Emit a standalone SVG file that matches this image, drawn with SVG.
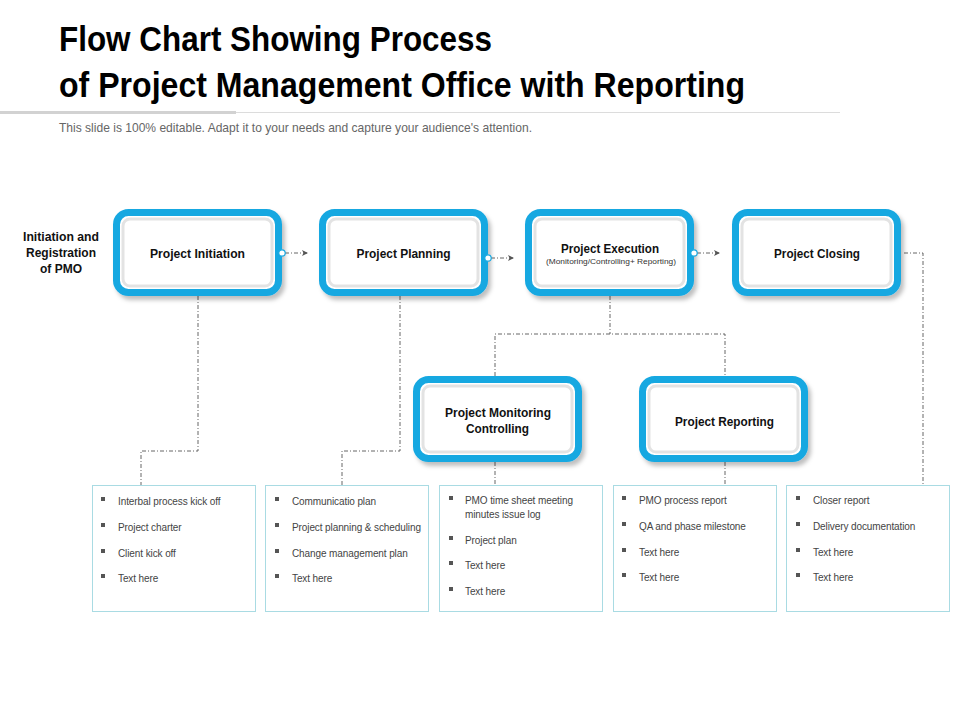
<svg xmlns="http://www.w3.org/2000/svg" width="960" height="720" viewBox="0 0 960 720">
<defs>
<filter id="sh" x="-10%" y="-10%" width="130%" height="140%">
<feDropShadow dx="3" dy="4" stdDeviation="2" flood-color="#000" flood-opacity="0.25"/>
</filter>
<marker id="arr" viewBox="0 0 8 8" refX="7" refY="4" markerWidth="8" markerHeight="8" markerUnits="userSpaceOnUse" orient="auto">
<path d="M1,1 L7,4 L1,7 L2.5,4 Z" fill="#555"/>
</marker>
<symbol id="bullet" viewBox="0 0 4 4"><rect width="4" height="4" fill="#555"/></symbol>
</defs>
<style>
.outer{fill:#fff;stroke:#17a8e1;stroke-width:7}
.inner{fill:#fff;stroke:#e3e3e3;stroke-width:3}
.lbl{font-family:"Liberation Sans",Arial,sans-serif;font-weight:bold;font-size:13.5px;fill:#111;text-anchor:middle}
.sub{font-family:"Liberation Sans",Arial,sans-serif;font-size:8px;fill:#333;text-anchor:middle}
.conn{fill:none;stroke:#555;stroke-width:0.9;stroke-dasharray:4 2 1 2}
.box{fill:#fff;stroke:#a9dbe3;stroke-width:1}
.item{font-family:"Liberation Sans",Arial,sans-serif;font-size:10px;fill:#444;letter-spacing:-0.1px}
.dot{fill:#fff;stroke:#17a8e1;stroke-width:1.2}
</style>
<rect width="960" height="720" fill="#fff"/>

<g id="header">
<text x="59" y="51" font-family="Liberation Sans,Arial,sans-serif" font-weight="bold" font-size="35" fill="#000" textLength="433" lengthAdjust="spacingAndGlyphs">Flow Chart Showing Process</text>
<text x="59" y="97" font-family="Liberation Sans,Arial,sans-serif" font-weight="bold" font-size="35" fill="#000" textLength="686" lengthAdjust="spacingAndGlyphs">of Project Management Office with Reporting</text>
<line x1="236" y1="112.5" x2="840" y2="112.5" stroke="#dcdcdc" stroke-width="1"/>
<line x1="0" y1="112.5" x2="236" y2="112.5" stroke="#d2d2d2" stroke-width="3"/>
<text x="59" y="132" font-family="Liberation Sans,Arial,sans-serif" font-size="13" fill="#666" textLength="473" lengthAdjust="spacingAndGlyphs">This slide is 100% editable. Adapt it to your needs and capture your audience's attention.</text>
</g>

<g id="label-pmo">
<text class="lbl" x="61" y="241" textLength="76" lengthAdjust="spacingAndGlyphs">Initiation and</text>
<text class="lbl" x="61" y="257" textLength="70" lengthAdjust="spacingAndGlyphs">Registration</text>
<text class="lbl" x="61" y="273" textLength="42" lengthAdjust="spacingAndGlyphs">of PMO</text>
</g>

<g id="connectors">
<path class="conn" d="M198,296 V451 H141 V485"/>
<path class="conn" d="M400,296 V451 H342 V485"/>
<path class="conn" d="M610,296 V334"/>
<path class="conn" d="M495,376 V334 H725 V376"/>
<path class="conn" d="M495,462 V485"/>
<path class="conn" d="M725,462 V485"/>
<path class="conn" d="M904,253 H923 V485"/>
<path class="conn" d="M285,253 H308" marker-end="url(#arr)"/>
<path class="conn" d="M491,258 H514" marker-end="url(#arr)"/>
<path class="conn" d="M697,253 H720" marker-end="url(#arr)"/>
</g>

<g id="node-initiation">
<rect class="outer" x="116.5" y="212.5" width="162" height="80" rx="12" filter="url(#sh)"/>
<rect class="inner" x="123" y="219" width="149" height="67" rx="7"/>
<text class="lbl" x="197.5" y="258" textLength="95" lengthAdjust="spacingAndGlyphs">Project Initiation</text>
<circle class="dot" cx="282" cy="253" r="3.2"/>
</g>

<g id="node-planning">
<rect class="outer" x="322.5" y="212.5" width="162" height="80" rx="12" filter="url(#sh)"/>
<rect class="inner" x="329" y="219" width="149" height="67" rx="7"/>
<text class="lbl" x="403.5" y="258" textLength="94" lengthAdjust="spacingAndGlyphs">Project Planning</text>
<circle class="dot" cx="488" cy="258" r="3.2"/>
</g>

<g id="node-execution">
<rect class="outer" x="528.5" y="212.5" width="162" height="80" rx="12" filter="url(#sh)"/>
<rect class="inner" x="535" y="219" width="149" height="67" rx="7"/>
<text class="lbl" x="610" y="253" textLength="98" lengthAdjust="spacingAndGlyphs">Project Execution</text>
<text class="sub" x="611" y="264" textLength="130" lengthAdjust="spacingAndGlyphs">(Monitoring/Controlling+  Reporting)</text>
<circle class="dot" cx="694" cy="253" r="3.2"/>
</g>

<g id="node-closing">
<rect class="outer" x="735.5" y="212.5" width="162" height="80" rx="12" filter="url(#sh)"/>
<rect class="inner" x="742" y="219" width="149" height="67" rx="7"/>
<text class="lbl" x="817" y="258" textLength="86" lengthAdjust="spacingAndGlyphs">Project Closing</text>
</g>

<g id="node-monitoring">
<rect class="outer" x="416.5" y="379.5" width="162" height="79" rx="12" filter="url(#sh)"/>
<rect class="inner" x="423" y="386" width="149" height="66" rx="7"/>
<text class="lbl" x="498" y="417" textLength="106" lengthAdjust="spacingAndGlyphs">Project Monitoring</text>
<text class="lbl" x="497.5" y="433" textLength="63" lengthAdjust="spacingAndGlyphs">Controlling</text>
</g>

<g id="node-reporting">
<rect class="outer" x="642.5" y="379.5" width="162" height="79" rx="12" filter="url(#sh)"/>
<rect class="inner" x="649" y="386" width="149" height="66" rx="7"/>
<text class="lbl" x="724.5" y="426" textLength="99" lengthAdjust="spacingAndGlyphs">Project Reporting</text>
</g>

<g id="list-initiation">
<rect class="box" x="92.5" y="485.5" width="163" height="126"/>
<use href="#bullet" x="101" y="497" width="4" height="4"/>
<use href="#bullet" x="101" y="523" width="4" height="4"/>
<use href="#bullet" x="101" y="549" width="4" height="4"/>
<use href="#bullet" x="101" y="574" width="4" height="4"/>
<text class="item" x="118" y="505">Interbal process kick off</text>
<text class="item" x="118" y="531">Project charter</text>
<text class="item" x="118" y="557">Client kick off</text>
<text class="item" x="118" y="582">Text here</text>
</g>

<g id="list-planning">
<rect class="box" x="265.5" y="485.5" width="163" height="126"/>
<use href="#bullet" x="275" y="497" width="4" height="4"/>
<use href="#bullet" x="275" y="523" width="4" height="4"/>
<use href="#bullet" x="275" y="549" width="4" height="4"/>
<use href="#bullet" x="275" y="574" width="4" height="4"/>
<text class="item" x="292" y="505">Communicatio plan</text>
<text class="item" x="292" y="531">Project planning &amp; scheduling</text>
<text class="item" x="292" y="557">Change management plan</text>
<text class="item" x="292" y="582">Text here</text>
</g>

<g id="list-monitoring">
<rect class="box" x="439.5" y="485.5" width="163" height="126"/>
<use href="#bullet" x="449" y="496" width="4" height="4"/>
<use href="#bullet" x="449" y="536" width="4" height="4"/>
<use href="#bullet" x="449" y="561" width="4" height="4"/>
<use href="#bullet" x="449" y="587" width="4" height="4"/>
<text class="item" x="465" y="504">PMO time sheet meeting</text>
<text class="item" x="465" y="518">minutes issue log</text>
<text class="item" x="465" y="544">Project plan</text>
<text class="item" x="465" y="569">Text here</text>
<text class="item" x="465" y="595">Text here</text>
</g>

<g id="list-reporting">
<rect class="box" x="613.5" y="485.5" width="163" height="126"/>
<use href="#bullet" x="622" y="496" width="4" height="4"/>
<use href="#bullet" x="622" y="522" width="4" height="4"/>
<use href="#bullet" x="622" y="548" width="4" height="4"/>
<use href="#bullet" x="622" y="573" width="4" height="4"/>
<text class="item" x="639" y="504">PMO process report</text>
<text class="item" x="639" y="530">QA and phase milestone</text>
<text class="item" x="639" y="556">Text here</text>
<text class="item" x="639" y="581">Text here</text>
</g>

<g id="list-closing">
<rect class="box" x="786.5" y="485.5" width="163" height="126"/>
<use href="#bullet" x="796" y="496" width="4" height="4"/>
<use href="#bullet" x="796" y="522" width="4" height="4"/>
<use href="#bullet" x="796" y="548" width="4" height="4"/>
<use href="#bullet" x="796" y="573" width="4" height="4"/>
<text class="item" x="813" y="504">Closer report</text>
<text class="item" x="813" y="530">Delivery documentation</text>
<text class="item" x="813" y="556">Text here</text>
<text class="item" x="813" y="581">Text here</text>
</g>
</svg>
